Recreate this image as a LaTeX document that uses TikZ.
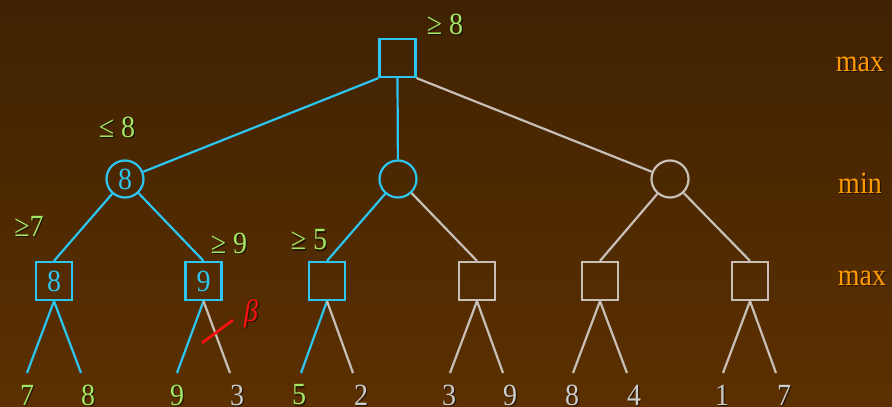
\documentclass[tikz,border=0pt]{standalone}
\usepackage{fontspec}
\usepackage{graphicx}
\setmainfont{Liberation Serif}
\definecolor{bgtop}{HTML}{3F2202}
\definecolor{bgmid}{HTML}{633400}
\definecolor{bgbot}{HTML}{5C3000}
\definecolor{cyanline}{HTML}{2CC6F0}
\definecolor{grayline}{HTML}{C8C0B8}
\definecolor{greentxt}{HTML}{A2E865}
\definecolor{graytxt}{HTML}{CCCCCC}
\definecolor{orangetxt}{HTML}{FF9A00}
\definecolor{redcut}{HTML}{FF1010}
\newcommand\bigfont{\fontsize{28}{30}\selectfont}
% \lbl{x}{y}{colour}{text}{name}
\newcommand\lbl[5]{%
  \node[txt,text=black,opacity=.55] at (#1+1.3,#2+1.3) {\scalebox{1}[1.1]{#4}};
  \node[txt,text=#3] (#5) at (#1,#2) {\scalebox{1}[1.1]{#4}};}
\begin{document}
\begin{tikzpicture}[x=1pt,y=-1pt,
  txt/.style={inner sep=0pt,font=\bigfont},
  sqbox/.style={draw,line width=2.2pt,minimum width=36pt,minimum height=38pt,inner sep=0pt,font=\bigfont,text=cyanline},
  cibox/.style={draw,circle,line width=2.2pt,minimum size=37pt,inner sep=0pt,font=\bigfont,text=cyanline},
  eon/.style={draw=cyanline,line width=2.2pt},
  eoff/.style={draw=grayline,line width=2.2pt}]
\useasboundingbox (0,0) rectangle (892,407);
\shade[top color=bgtop,middle color=bgmid,bottom color=bgbot] (0,0) rectangle (892,407);

% nodes
\node[sqbox,draw=cyanline] (root) at (397.5,58) {};
\node[cibox,draw=cyanline] (c1) at (125,179) {\scalebox{1}[1.1]{8}};
\node[cibox,draw=cyanline] (c2) at (398,179) {};
\node[cibox,draw=grayline] (c3) at (670,179) {};
\node[sqbox,draw=cyanline] (s1) at (54,281) {\scalebox{1}[1.1]{8}};
\node[sqbox,draw=cyanline] (s2) at (203.5,281) {\scalebox{1}[1.1]{9}};
\node[sqbox,draw=cyanline] (s3) at (327,281) {};
\node[sqbox,draw=grayline] (s4) at (477,281) {};
\node[sqbox,draw=grayline] (s5) at (600,281) {};
\node[sqbox,draw=grayline] (s6) at (750,281) {};

% leaf line ends
\coordinate (l1a) at (27,373);  \coordinate (l1b) at (81,373);
\coordinate (l2a) at (177,373); \coordinate (l2b) at (230,373);
\coordinate (l3a) at (301,373); \coordinate (l3b) at (353,373);
\coordinate (l4a) at (450,373); \coordinate (l4b) at (503,373);
\coordinate (l5a) at (573,373); \coordinate (l5b) at (627,373);
\coordinate (l6a) at (723,373); \coordinate (l6b) at (776,373);

% edges
\draw[eon] (root.south west) -- (c1);
\draw[eon] (root.south) -- (c2);
\draw[eoff] (root.south east) -- (c3);
\draw[eon] (c1) -- (s1.north);
\draw[eon] (c1) -- (s2.north);
\draw[eon] (c2) -- (s3.north);
\draw[eoff] (c2) -- (s4.north);
\draw[eoff] (c3) -- (s5.north);
\draw[eoff] (c3) -- (s6.north);
\draw[eon] (s1.south) -- (l1a);
\draw[eon] (s1.south) -- (l1b);
\draw[eon] (s2.south) -- (l2a);
\draw[eoff] (s2.south) -- (l2b);
\draw[eon] (s3.south) -- (l3a);
\draw[eoff] (s3.south) -- (l3b);
\draw[eoff] (s4.south) -- (l4a);
\draw[eoff] (s4.south) -- (l4b);
\draw[eoff] (s5.south) -- (l5a);
\draw[eoff] (s5.south) -- (l5b);
\draw[eoff] (s6.south) -- (l6a);
\draw[eoff] (s6.south) -- (l6b);

% beta cut
\coordinate (cuta) at (202,343);
\coordinate (cutb) at (233,320);
\draw[draw=redcut,line width=2.6pt] (cuta) -- (cutb);
\lbl{251}{314}{redcut}{\itshape β}{beta}

% bound labels
\lbl{445}{24}{greentxt}{≥ 8}{broot}
\lbl{117}{127}{greentxt}{≤ 8}{bc1}
\lbl{29}{226}{greentxt}{≥7}{bs1}
\lbl{229}{243}{greentxt}{≥ 9}{bs2}
\lbl{309}{240}{greentxt}{≥ 5}{bs3}

% level labels
\lbl{860}{64}{orangetxt}{max}{lv1}
\lbl{860}{183}{orangetxt}{min}{lv2}
\lbl{862}{278}{orangetxt}{max}{lv3}

% leaf values
\lbl{27}{395}{greentxt}{7}{v1}
\lbl{88}{395}{greentxt}{8}{v2}
\lbl{177}{395}{greentxt}{9}{v3}
\lbl{237}{395}{graytxt}{3}{v4}
\lbl{299}{395}{greentxt}{5}{v5}
\lbl{361}{395}{graytxt}{2}{v6}
\lbl{449}{395}{graytxt}{3}{v7}
\lbl{510}{395}{graytxt}{9}{v8}
\lbl{572}{395}{graytxt}{8}{v9}
\lbl{634}{395}{graytxt}{4}{v10}
\lbl{722}{395}{graytxt}{1}{v11}
\lbl{784}{395}{graytxt}{7}{v12}
\end{tikzpicture}
\end{document}
